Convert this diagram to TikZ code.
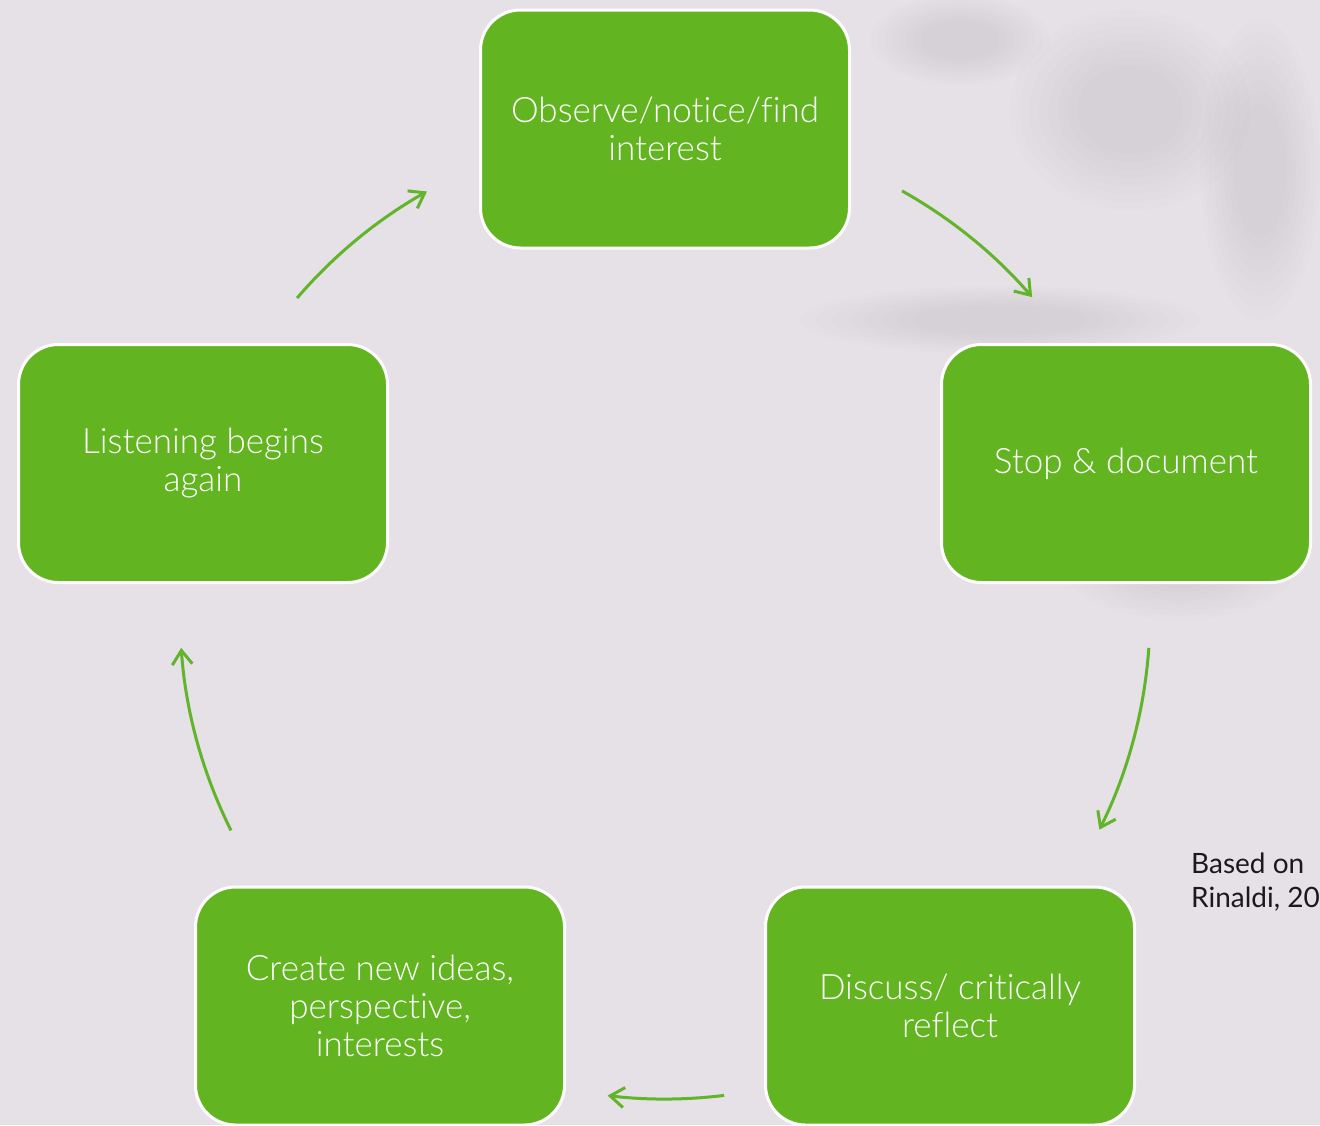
\documentclass[tikz,border=0pt]{standalone}
\usepackage{fontspec}
\setmainfont{Lato Light}[Ligatures=NoCommon]
\newfontfamily\notefont{Lato}[Ligatures=NoCommon]
\usetikzlibrary{arrows.meta,calc}
\definecolor{bg}{HTML}{E5E1E6}
\definecolor{shade}{HTML}{9A949C}
\definecolor{boxgreen}{HTML}{62B420}
\definecolor{arrgreen}{HTML}{62B42A}
\definecolor{notetext}{HTML}{1A1A1A}
\begin{document}
\begin{tikzpicture}[x=1pt,y=-1pt,
  stepbox/.style={draw=white, line width=3pt, fill=boxgreen, rounded corners=40pt,
    minimum width=369pt, minimum height=238pt, text=white, align=center,
    font=\fontsize{35}{38}\selectfont, inner sep=0pt},
  cyc/.style={draw=arrgreen, line width=3pt,
    -{Straight Barb[length=14pt,width=20pt]}},
  blur/.style={fill=shade, opacity=0.018, draw=none}]
\useasboundingbox (0,0) rectangle (1320,1125);
\fill[bg] (0,0) rectangle (1320,1125);
% soft shadow of a plant in the background
\foreach \s in {1.0,0.92,0.84,0.76,0.68,0.6,0.52,0.44}{
  \fill[blur] (1000,320) ellipse[x radius=200*\s, y radius=34*\s];
  \fill[blur] (1130,110) ellipse[x radius=120*\s, y radius=100*\s];
  \fill[blur] (1260,170) ellipse[x radius=60*\s, y radius=150*\s];
  \fill[blur] (1180,560) ellipse[x radius=120*\s, y radius=60*\s];
  \fill[blur] (960,40) ellipse[x radius=90*\s, y radius=45*\s];
}
% boxes
\node[stepbox] (top)   at (665,129)   {Observe/notice/find\\interest};
\node[stepbox] (right) at (1126,463.5) {Stop \& document};
\node[stepbox] (br)    at (950,1006)  {Discuss/ critically\\reflect};
\node[stepbox] (bl)    at (380,1006)  {Create new ideas,\\perspective,\\interests};
\node[stepbox] (left)  at (203,463.5) {Listening begins\\again};
% cycle arrows: arcs of one circle
\coordinate (c) at (665,614);
\coordinate (a1) at ($(c)+(-139.35:485)$);
\coordinate (a2) at ($(c)+(-60.74:485)$);
\coordinate (a3) at ($(c)+(4.0:485)$);
\coordinate (a4) at ($(c)+(83.0:485)$);
\coordinate (a5) at ($(c)+(153.5:485)$);
\draw[cyc] (a1) arc[start angle=-139.35, end angle=-119.4, radius=485];
\draw[cyc] (a2) arc[start angle=-60.74, end angle=-40.8, radius=485];
\draw[cyc] (a3) arc[start angle=4.0, end angle=26.4, radius=485];
\draw[cyc] (a4) arc[start angle=83.0, end angle=96.8, radius=485];
\draw[cyc] (a5) arc[start angle=153.5, end angle=176.0, radius=485];
% note
\node[anchor=north west, align=left, inner sep=0pt, text=notetext,
  font=\notefont\fontsize{28}{34}\selectfont] (note) at (1191,853) {Based on\\Rinaldi, 20};
\end{tikzpicture}
\end{document}
